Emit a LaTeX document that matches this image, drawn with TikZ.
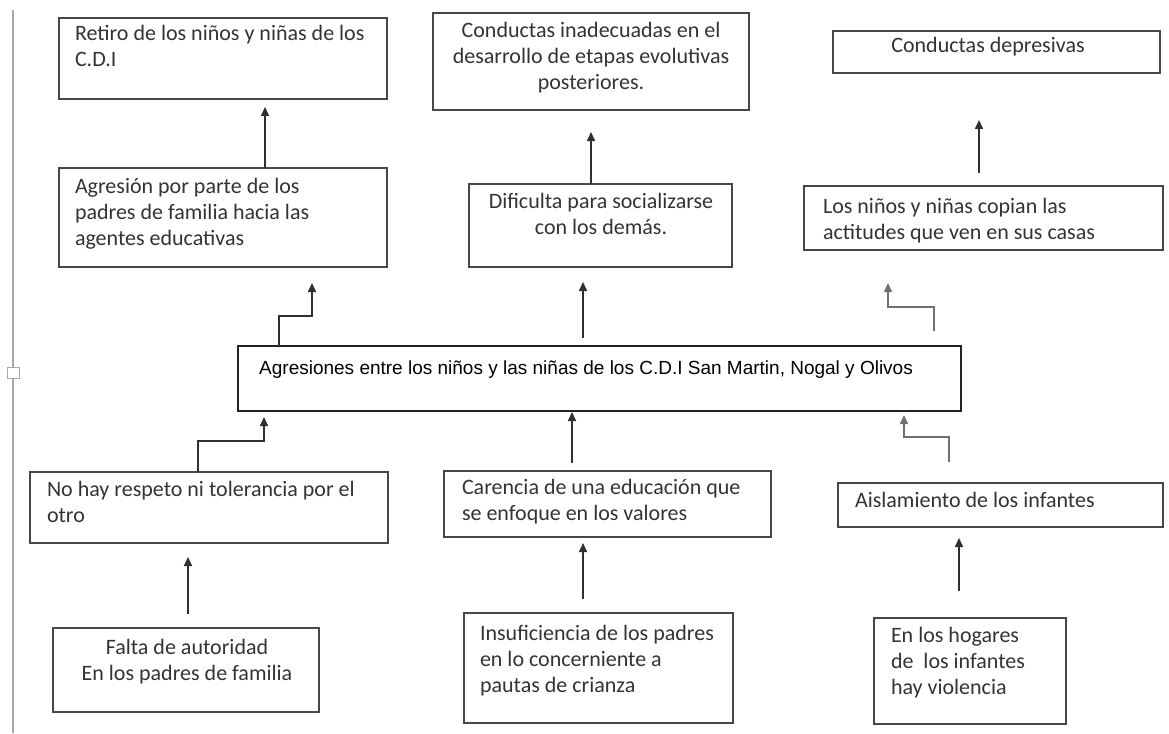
\documentclass[tikz,border=0pt]{standalone}
\usepackage{fontspec}
\setmainfont{Carlito}
\newfontfamily\arialf{Liberation Sans}
\usetikzlibrary{arrows.meta,calc}
\definecolor{boxc}{HTML}{474747}
\definecolor{cboxc}{HTML}{222222}
\definecolor{txtc}{HTML}{333333}
\definecolor{arrc}{HTML}{303030}
\definecolor{arrg}{HTML}{707070}
\definecolor{rulec}{HTML}{A8A8A8}
\tikzset{
  box/.style={draw=boxc, line width=1.6pt, anchor=north west, inner sep=0pt, outer sep=0pt},
  txt/.style={inner sep=0pt, outer sep=0pt, text=txtc, font=\fontsize{22}{26}\selectfont},
  arr/.style={draw=arrc, line width=1.6pt, -{Triangle[length=9pt,width=8pt]}},
  arrlight/.style={arr, draw=arrg},
}
\begin{document}
\begin{tikzpicture}[x=1pt,y=-1pt]
\useasboundingbox (0,0) rectangle (1169,733);
% left rule with small handle
\draw[rulec, line width=1.2pt] (13,10) -- (13,733);
\node[draw=rulec, fill=white, line width=1pt, minimum width=12pt, minimum height=11pt, inner sep=0pt] (hnd) at (13,372.5) {};

% boxes
\node[box, minimum width=328pt, minimum height=81pt] (r1) at (59,18) {};
\node[box, minimum width=328pt, minimum height=99pt] (a2) at (59,168) {};
\node[box, minimum width=316pt, minimum height=97pt] (c3) at (433,13) {};
\node[box, minimum width=263pt, minimum height=83pt] (d4) at (469,184) {};
\node[box, minimum width=327pt, minimum height=42pt] (cd5) at (833,31) {};
\node[box, minimum width=359pt, minimum height=64pt] (L6) at (804,186) {};
\node[box, draw=cboxc, minimum width=723pt, minimum height=65pt] (C) at (238,346) {};
\node[box, minimum width=358pt, minimum height=71pt] (N) at (30,472) {};
\node[box, minimum width=327pt, minimum height=66pt] (Car) at (444,471) {};
\node[box, minimum width=325pt, minimum height=44pt] (Ais) at (838,483) {};
\node[box, minimum width=266pt, minimum height=84pt] (Fa) at (53,628) {};
\node[box, minimum width=269pt, minimum height=110pt] (Ins) at (464,613) {};
\node[box, minimum width=192pt, minimum height=106pt] (Hog) at (874,618) {};

% texts
\node[txt, anchor=base west] (r1t) at (75,41) {\parbox[t]{400pt}{\raggedright Retiro de los niños y niñas de los\\C.D.I}};
\node[txt, anchor=base west] (a2t) at (75,193) {\parbox[t]{400pt}{\raggedright Agresión por parte de los\\padres de familia hacia las\\agentes educativas}};
\node[txt, anchor=base] (c3t) at (591,38) {\parbox[t]{316pt}{\centering Conductas inadecuadas en el\\desarrollo de etapas evolutivas\\posteriores.}};
\node[txt, anchor=base] (d4t) at (601,208) {\parbox[t]{263pt}{\centering Dificulta para socializarse\\con los demás.}};
\node[txt, anchor=base] (cd5t) at (988,53) {Conductas depresivas};
\node[txt, anchor=base west] (L6t) at (823,213) {\parbox[t]{400pt}{\raggedright Los niños y niñas copian las\\actitudes que ven en sus casas}};
\node[inner sep=0pt, anchor=base west, font=\arialf\fontsize{19}{23}\selectfont, text=black] (Ct) at (259,374) {Agresiones entre los niños y las niñas de los C.D.I San Martin, Nogal y Olivos};
\node[txt, anchor=base west] (Nt) at (47,496) {\parbox[t]{400pt}{\raggedright No hay respeto ni tolerancia por el\\otro}};
\node[txt, anchor=base west] (Cart) at (462,494) {\parbox[t]{400pt}{\raggedright Carencia de una educación que\\se enfoque en los valores}};
\node[txt, anchor=base west] (Aist) at (855,507) {Aislamiento de los infantes};
\node[txt, anchor=base] (Fat) at (187,654) {\parbox[t]{266pt}{\centering Falta de autoridad\\En los padres de familia}};
\node[txt, anchor=base west] (Inst) at (480,640) {\parbox[t]{400pt}{\raggedright Insuficiencia de los padres\\en lo concerniente a\\pautas de crianza}};
\node[txt, anchor=base west] (Hogt) at (891,642) {\parbox[t]{400pt}{\raggedright En los hogares\\de\ \ los infantes\\hay violencia}};

% arrow coordinates
\coordinate (t1) at (265,107);
\coordinate (t2) at (591,132);
\coordinate (s3) at (979,173); \coordinate (t3) at (979,120);
\coordinate (s4) at (279,316); \coordinate (t4) at (312,283);
\coordinate (t5) at (583,282); \coordinate (s5) at (583,338);
\coordinate (s6) at (934,331); \coordinate (m6) at (934,307); \coordinate (t6) at (888,283);
\coordinate (m7) at (198,441); \coordinate (t7) at (264,417);
\coordinate (s8) at (572,463); \coordinate (t8) at (572,412);
\coordinate (s9) at (949,462); \coordinate (m9) at (949,437); \coordinate (t9) at (904,415);
\coordinate (s10) at (188,614); \coordinate (t10) at (188,557);
\coordinate (s11) at (583,599); \coordinate (t11) at (583,543);
\coordinate (s12) at (959,591); \coordinate (t12) at (959,538);

% arrows
\draw[arr] (a2.north -| t1) -- (t1);
\draw[arr] (d4.north -| t2) -- (t2);
\draw[arr] (s3) -- (t3);
\draw[arr] (C.north -| s4) -- (s4) -| (t4);
\draw[arr] (s5) -- (t5);
\draw[arrlight] (s6) -- (m6) -| (t6);
\draw[arr] (N.north -| m7) -- (m7) -| (t7);
\draw[arr] (s8) -- (t8);
\draw[arrlight] (s9) -- (m9) -| (t9);
\draw[arr] (s10) -- (t10);
\draw[arr] (s11) -- (t11);
\draw[arr] (s12) -- (t12);
\end{tikzpicture}
\end{document}
